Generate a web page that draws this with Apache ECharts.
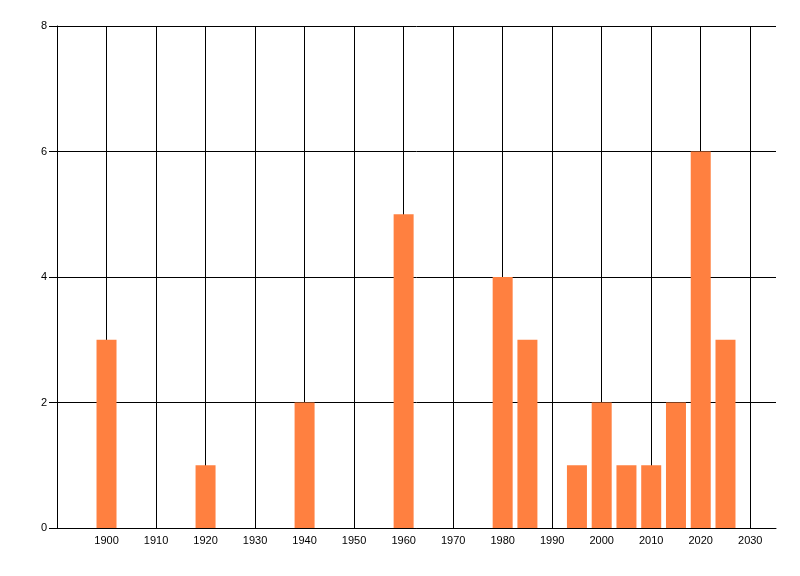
<!DOCTYPE html>
<html><head><meta charset="utf-8">
<script src="https://cdn.jsdelivr.net/npm/echarts@6/dist/echarts.min.js"></script>
<style>html,body{margin:0;padding:0;background:#fff}#c{width:800px;height:576px}</style>
</head><body><div id="c"></div>
<script>
const years = [1900, 1920, 1940, 1960, 1980, 1985, 1995, 2000, 2005, 2010, 2015, 2020, 2025];
const counts = [3, 1, 2, 5, 4, 3, 1, 2, 1, 1, 2, 6, 3];

const chart = echarts.init(document.getElementById('c'), null, {renderer: 'canvas'});
const font = {fontFamily: 'Liberation Sans', fontSize: 11, color: '#000'};
chart.setOption({
  animation: false,
  backgroundColor: '#fff',
  grid: {left: 57, right: 24, top: 26, bottom: 48, containLabel: false},
  xAxis: {
    type: 'value', min: 1890, max: 2035.2, interval: 10,
    axisLine: {show: true, lineStyle: {color: '#000', width: 1}},
    axisTick: {show: false},
    axisLabel: Object.assign({margin: 7, showMinLabel: false, showMaxLabel: false,
      formatter: v => (v % 10 === 0 && v > 1890) ? String(v) : ''}, font),
    splitLine: {show: true, showMinLine: true, showMaxLine: false, lineStyle: {color: '#000', width: 1}}
  },
  yAxis: {
    type: 'value', min: 0, max: 8, interval: 2,
    axisLine: {show: true, lineStyle: {color: '#000', width: 1}},
    axisTick: {show: true, length: 8, lineStyle: {color: '#000'}},
    axisLabel: Object.assign({margin: 10}, font),
    splitLine: {show: true, lineStyle: {color: '#000', width: 1}}
  },
  series: [{
    type: 'bar',
    data: years.map((y, i) => [y, counts[i]]),
    barWidth: 20,
    itemStyle: {color: '#FF8040'}
  }]
});
</script></body></html>
